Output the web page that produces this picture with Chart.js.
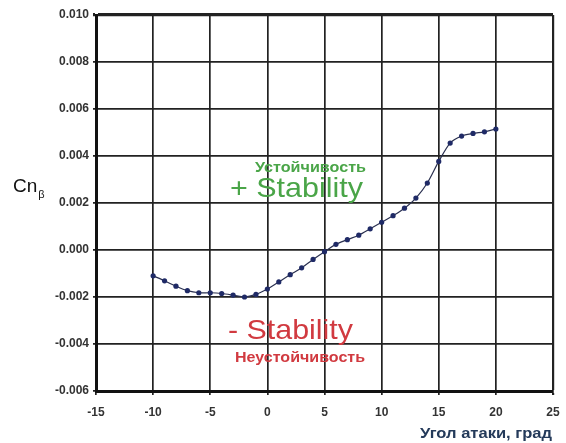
<!DOCTYPE html>
<html><head><meta charset="utf-8">
<script src="https://cdn.jsdelivr.net/npm/chart.js@4"></script>
<style>html,body{margin:0;padding:0;background:#fff}#wrap{width:566px;height:443px}</style>
</head><body><div id="wrap"><canvas id="c" width="566" height="443"></canvas></div>
<script>
const alpha = [-10,-9,-8,-7,-6,-5,-4,-3,-2,-1,0,1,2,3,4,5,6,7,8,9,10,11,12,13,14,15,16,17,18,19,20];
const cnBeta = [-0.00110,-0.00131,-0.00154,-0.00173,-0.00182,-0.00182,-0.00185,-0.00192,-0.00200,-0.00189,-0.00166,-0.00136,-0.00105,-0.00076,-0.00040,-0.00007,0.00024,0.00044,0.00063,0.00090,0.00118,0.00146,0.00178,0.00221,0.00285,0.00377,0.00455,0.00485,0.00496,0.00503,0.00515];
const xTicks = [-15,-10,-5,0,5,10,15,20,25];
const yTicks = [-0.006,-0.004,-0.002,0.000,0.002,0.004,0.006,0.008,0.010];
const yTitle = 'Cn';
const yTitleSub = 'β';
const xTitle = 'Угол атаки, град';
const plusLabel = '+ Stability';
const plusLabelRu = 'Устойчивость';
const minusLabel = '- Stability';
const minusLabelRu = 'Неустойчивость';

function fitText(ctx, text, x, y, width) {
  const w = ctx.measureText(text).width;
  ctx.save();
  ctx.translate(x, y);
  ctx.scale(width / w, 1);
  ctx.fillText(text, 0, 0);
  ctx.restore();
}

const textPlugin = {
  id: 'texts',
  afterDraw(chart) {
    const ctx = chart.ctx;
    ctx.save();
    ctx.textBaseline = 'middle';
    ctx.textAlign = 'left';
    // y title
    ctx.fillStyle = '#111';
    ctx.font = '19px "Liberation Sans", Arial, sans-serif';
    ctx.fillText(yTitle, 13, 187);
    const w = ctx.measureText(yTitle).width;
    ctx.font = '11px "Liberation Sans", Arial, sans-serif';
    ctx.fillText(yTitleSub, 13 + w + 1, 195);
    // x title
    ctx.fillStyle = '#243a5a';
    ctx.font = 'bold 14px "Liberation Sans", Arial, sans-serif';
    fitText(ctx, xTitle, 420, 434, 132);
    // stability labels
    ctx.fillStyle = '#4aa548';
    ctx.font = 'bold 14px "Liberation Sans", Arial, sans-serif';
    fitText(ctx, plusLabelRu, 255, 168, 111);
    ctx.font = '28px "Liberation Sans", Arial, sans-serif';
    fitText(ctx, plusLabel, 230, 189, 133);
    ctx.fillStyle = '#d13a40';
    fitText(ctx, minusLabel, 228, 331, 125);
    ctx.font = 'bold 14px "Liberation Sans", Arial, sans-serif';
    fitText(ctx, minusLabelRu, 235, 358, 130);
    ctx.restore();
  }
};

new Chart(document.getElementById('c'), {
  type: 'scatter',
  data: {
    datasets: [{
      data: alpha.map((a, i) => ({x: a, y: cnBeta[i]})),
      showLine: true,
      borderColor: '#2a3050',
      borderWidth: 1.2,
      backgroundColor: '#1f2a66',
      pointRadius: 2.6,
      pointBorderWidth: 0,
      tension: 0.3
    }]
  },
  options: {
    responsive: false,
    animation: false,
    devicePixelRatio: 1,
    layout: {padding: {top: 15, right: 13, left: 0, bottom: 0}},
    plugins: {legend: {display: false}, tooltip: {enabled: false}},
    scales: {
      x: {
        type: 'linear', min: -15, max: 25,
        afterBuildTicks: s => { s.ticks = xTicks.map(v => ({value: v})); },
        afterFit: s => { s.height = 52; s.paddingLeft = 0; s.paddingRight = 0; },
        border: {color: '#111', width: 3},
        grid: {
          color: '#222',
          lineWidth: c => (c.tick && c.tick.value === 25) ? 2.2 : 1.7,
          tickLength: 4, drawTicks: true
        },
        ticks: {color: '#333', padding: 10, maxRotation: 0,
          font: {family: '"Liberation Sans", Arial, sans-serif', size: 12, weight: 'bold'},
          callback: v => String(v)}
      },
      y: {
        type: 'linear', min: -0.006, max: 0.010,
        afterBuildTicks: s => { s.ticks = yTicks.map(v => ({value: v})); },
        afterFit: s => { s.width = 96; s.paddingTop = 0; s.paddingBottom = 0; },
        border: {color: '#111', width: 3},
        grid: {
          color: '#222',
          lineWidth: c => (c.tick && Math.abs(c.tick.value - 0.010) < 1e-9) ? 3.2 : 1.7,
          tickLength: 3, drawTicks: true
        },
        ticks: {color: '#333', padding: 4,
          font: {family: '"Liberation Sans", Arial, sans-serif', size: 12, weight: 'bold'},
          callback: v => v.toFixed(3)}
      }
    }
  },
  plugins: [textPlugin]
});
</script></body></html>
